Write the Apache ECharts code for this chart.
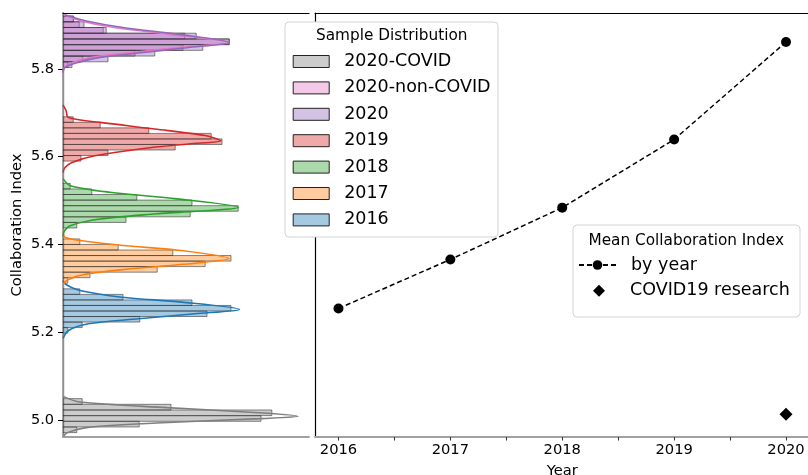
<!DOCTYPE html>
<html><head><meta charset="utf-8">
<script src="https://cdn.jsdelivr.net/npm/echarts@6/dist/echarts.min.js"></script>
<style>html,body{margin:0;padding:0;background:#fff}#c{width:808px;height:475px}</style>
</head><body><div id="c"></div>
<script>
// ---------- data ----------
const years = [2016, 2017, 2018, 2019, 2020];
const meanByYear = [5.2545, 5.366, 5.484, 5.639, 5.861];
const covidPoint = [2020, 5.0136];
const yTicks = [5.0, 5.2, 5.4, 5.6, 5.8];
const xTicks = [2016, 2017, 2018, 2019, 2020];
const xMinorTicks = [2016, 2016.5, 2017, 2017.5, 2018, 2018.5, 2019, 2019.5, 2020];
const legendNames = ['2020-COVID', '2020-non-COVID', '2020', '2019', '2018', '2017', '2016'];

// histograms: lower edge of first bin, bin width, densities (ascending collaboration index)
const hist2016Start = 5.1984, hist2016Width = 0.0126;
const hist2016 = [0.8, 3.2, 12.8, 24.0, 28.0, 21.5, 10.0, 2.8];
const hist2017Start = 5.3120, hist2017Width = 0.0126;
const hist2017 = [0.8, 4.5, 15.7, 23.7, 28.0, 18.3, 9.2, 2.8];
const hist2018Start = 5.4377, hist2018Width = 0.0127;
const hist2018 = [2.3, 10.5, 21.2, 29.2, 21.5, 12.3, 4.8, 1.2];
const hist2019Start = 5.5900, hist2019Width = 0.0126;
const hist2019 = [3.0, 7.5, 18.7, 26.5, 24.7, 14.3, 6.2, 1.7];
const hist2020Start = 5.8030, hist2020Width = 0.0130;
const hist2020 = [1.5, 7.5, 15.3, 23.3, 27.7, 22.2, 7.2, 3.5, 1.8];
const hist2020NonCovid = [0.8, 3.3, 12.0, 20.0, 27.7, 20.3, 6.7, 2.7, 1.7];
const hist2020CovidStart = 4.9720, hist2020CovidWidth = 0.01288;
const hist2020Covid = [2.3, 12.7, 33.0, 34.8, 18.0, 3.2];

// KDE curves: [density, collaboration index]
const kde2016 = [[0,5.1864],[0.9,5.2045],[4.2,5.2198],[12.6,5.2311],[22.0,5.2425],[29.4,5.2523],[19.8,5.2689],[9.8,5.2802],[2.8,5.2955],[0.5,5.309],[0,5.318]];
const kde2017 = [[0,5.309],[0.8,5.320],[3.5,5.332],[10,5.343],[20,5.355],[27.7,5.368],[20,5.386],[10,5.398],[4,5.407],[0.4,5.416],[0,5.427]];
const kde2018 = [[0,5.418],[0.2,5.430],[1.2,5.443],[6.2,5.458],[15.6,5.470],[29.2,5.485],[19.0,5.504],[7.8,5.519],[1.2,5.534],[0,5.550]];
const kde2019 = [[0,5.564],[0.3,5.575],[1.5,5.587],[5.3,5.602],[13.1,5.618],[20.9,5.629],[26.3,5.636],[23.7,5.648],[15.3,5.663],[6.2,5.678],[0.9,5.689],[0.5,5.705],[0,5.718]];
const kde2020 = [[0,5.791],[0.3,5.803],[2.3,5.814],[6.2,5.826],[13.4,5.837],[20.6,5.848],[27.7,5.860],[19.0,5.879],[10,5.894],[3.9,5.909],[0.3,5.923]];
const kde2020NonCovid = [[0,5.791],[0.2,5.803],[1.5,5.814],[4.8,5.826],[11.5,5.837],[19.0,5.848],[27.5,5.860],[17.5,5.879],[8.5,5.894],[3.0,5.909],[0.2,5.923]];
const kde2020Covid = [[0.1,4.9636],[0.6,4.9711],[3.9,4.9834],[15.6,4.9939],[32.8,5.0039],[39.2,5.0091],[33.4,5.0166],[17.3,5.0289],[2.8,5.0416],[0,5.0545]];

// ---------- build ----------
const FONT = 'DejaVu Sans';
const Y_MIN = 4.962, Y_MAX = 5.927;
function rgba(hex, a) {
  const n = parseInt(hex.slice(1), 16);
  return `rgba(${(n >> 16) & 255},${(n >> 8) & 255},${n & 255},${a})`;
}
// drawing order: later entries are drawn on top
const groups = [
  {name: '2016', color: '#1f77b4', start: hist2016Start, width: hist2016Width, dens: hist2016, kde: kde2016},
  {name: '2017', color: '#ff7f0e', start: hist2017Start, width: hist2017Width, dens: hist2017, kde: kde2017},
  {name: '2018', color: '#2ca02c', start: hist2018Start, width: hist2018Width, dens: hist2018, kde: kde2018},
  {name: '2019', color: '#d62728', start: hist2019Start, width: hist2019Width, dens: hist2019, kde: kde2019},
  {name: '2020-non-COVID', color: '#e377c2', start: hist2020Start, width: hist2020Width, dens: hist2020NonCovid, kde: kde2020NonCovid},
  {name: '2020', color: '#9467bd', start: hist2020Start, width: hist2020Width, dens: hist2020, kde: kde2020},
  {name: '2020-COVID', color: '#7f7f7f', start: hist2020CovidStart, width: hist2020CovidWidth, dens: hist2020Covid, kde: kde2020Covid}
];
const colorOf = {};
groups.forEach(g => colorOf[g.name] = g.color);

const series = [];
groups.forEach(g => {
  const data = g.dens.map((d, i) => [g.start + i * g.width, g.start + (i + 1) * g.width, d]);
  series.push({
    type: 'custom', name: g.name, xAxisIndex: 0, yAxisIndex: 0, data,
    encode: {x: 2, y: [0, 1]}, clip: true, z: 2,
    itemStyle: {color: rgba(g.color, 0.4)},
    renderItem: (params, api) => {
      const a = api.coord([0, api.value(1)]);
      const b = api.coord([api.value(2), api.value(0)]);
      return {type: 'rect', shape: {x: a[0], y: a[1], width: b[0] - a[0], height: b[1] - a[1]},
        style: {fill: rgba(g.color, 0.4), stroke: 'rgba(40,40,40,0.55)', lineWidth: 1}};
    }
  });
});
groups.forEach(g => {
  series.push({
    type: 'line', name: g.name + ' KDE', xAxisIndex: 0, yAxisIndex: 0, data: g.kde,
    showSymbol: false, smooth: 0.3, clip: true, z: 3, silent: true,
    lineStyle: {color: g.color, width: 1.6}, itemStyle: {color: g.color}
  });
});
series.push({
  type: 'line', name: 'by year', xAxisIndex: 2, yAxisIndex: 2,
  data: years.map((y, i) => [y, meanByYear[i]]),
  symbol: 'circle', symbolSize: 10, z: 5,
  lineStyle: {color: '#000', width: 1.5, type: [5, 3]},
  itemStyle: {color: '#000', opacity: 1}
});
series.push({
  type: 'scatter', name: 'COVID19 research', xAxisIndex: 2, yAxisIndex: 2,
  data: [covidPoint], symbol: 'diamond', symbolSize: 13, z: 5,
  itemStyle: {color: '#000', opacity: 1}
});

const hidden = {axisTick: {show: false}, axisLabel: {show: false}, splitLine: {show: false}};
const legendText = {fontFamily: FONT, fontSize: 17.5, color: '#000', lineHeight: 20};
const option = {
  animation: false,
  backgroundColor: '#fff',
  grid: [
    {left: 63, top: 13, width: 246, height: 424, outerBoundsMode: 'none', containLabel: false},
    {left: 315, top: 13, width: 494.5, height: 424, outerBoundsMode: 'none', containLabel: false}
  ],
  xAxis: [
    Object.assign({type: 'value', gridIndex: 0, min: 0, max: 41, position: 'bottom',
      axisLine: {lineStyle: {color: '#a0a0a0', width: 1.8}}}, hidden),
    Object.assign({type: 'value', gridIndex: 0, min: 0, max: 1, position: 'top',
      axisLine: {lineStyle: {color: '#000', width: 1.2}}}, hidden),
    {type: 'value', gridIndex: 1, min: 2015.79, max: 2020.21, position: 'bottom',
      axisLine: {lineStyle: {color: '#a0a0a0', width: 1.8}},
      axisTick: {customValues: xMinorTicks, length: 3.5, lineStyle: {color: '#333', width: 1}},
      axisLabel: {customValues: xTicks, margin: 6, fontFamily: FONT, fontSize: 14.7, color: '#000',
        formatter: v => String(Math.round(v))},
      splitLine: {show: false},
      name: 'Year', nameLocation: 'middle', nameGap: 27,
      nameTextStyle: {fontFamily: FONT, fontSize: 14.7, color: '#000'}},
    Object.assign({type: 'value', gridIndex: 1, min: 0, max: 1, position: 'top',
      axisLine: {lineStyle: {color: '#000', width: 1.2}}}, hidden)
  ],
  yAxis: [
    {type: 'value', gridIndex: 0, min: Y_MIN, max: Y_MAX, position: 'left',
      axisLine: {lineStyle: {color: '#000', width: 1.2}},
      axisTick: {customValues: yTicks, length: 5, lineStyle: {color: '#000', width: 1}},
      axisLabel: {customValues: yTicks, margin: 9, fontFamily: FONT, fontSize: 14.5, color: '#000',
        formatter: v => v.toFixed(1)},
      splitLine: {show: false},
      name: 'Collaboration Index', nameLocation: 'middle', nameGap: 38,
      nameTextStyle: {fontFamily: FONT, fontSize: 14.7, color: '#000'}},
    Object.assign({type: 'value', gridIndex: 0, min: Y_MIN, max: Y_MAX, position: 'right',
      axisLine: {lineStyle: {color: '#a0a0a0', width: 1.8}}}, hidden),
    Object.assign({type: 'value', gridIndex: 1, min: Y_MIN, max: Y_MAX, position: 'left',
      axisLine: {lineStyle: {color: '#000', width: 1.2}}}, hidden)
  ],
  legend: [
    {orient: 'vertical', left: 292.7, top: 51.5, padding: 0, itemWidth: 36, itemHeight: 12, itemGap: 6.4,
      selectedMode: false, z: 60,
      textStyle: Object.assign({padding: [0, 0, 0, 10]}, legendText),
      data: legendNames.map(n => ({name: n, icon: 'rect',
        itemStyle: {color: rgba(colorOf[n], 0.4), borderColor: '#222', borderWidth: 1}}))},
    {orient: 'vertical', left: 578, top: 255, padding: 0, itemWidth: 37, itemHeight: 12,
      selectedMode: false, z: 60,
      textStyle: Object.assign({padding: [0, 0, 0, 10]}, legendText),
      data: ['by year']},
    {orient: 'vertical', left: 593, top: 280.7, padding: 0, itemWidth: 12, itemHeight: 12,
      selectedMode: false, z: 60,
      textStyle: Object.assign({padding: [0, 0, 0, 20]}, legendText),
      data: [{name: 'COVID19 research', icon: 'diamond', itemStyle: {color: '#000', opacity: 1}}]}
  ],
  graphic: [
    {type: 'rect', z: 50, shape: {x: 285, y: 22, width: 213, height: 215, r: 4},
      style: {fill: '#fff', stroke: '#d4d4d4', lineWidth: 1}},
    {type: 'text', z: 61, x: 391.7, y: 36, style: {text: 'Sample Distribution', fontFamily: FONT,
      fontSize: 15.3, fill: '#000', align: 'center', verticalAlign: 'middle'}},
    {type: 'rect', z: 50, shape: {x: 573, y: 225, width: 227, height: 92, r: 4},
      style: {fill: '#fff', stroke: '#d4d4d4', lineWidth: 1}},
    {type: 'text', z: 61, x: 686.2, y: 241, style: {text: 'Mean Collaboration Index', fontFamily: FONT,
      fontSize: 15.3, fill: '#000', align: 'center', verticalAlign: 'middle'}}
  ],
  series
};
const chart = echarts.init(document.getElementById('c'), null, {renderer: 'canvas'});
chart.setOption(option);
</script></body></html>
